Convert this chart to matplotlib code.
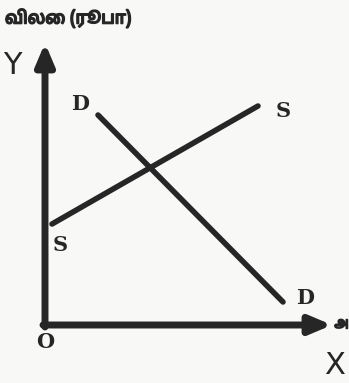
import matplotlib.pyplot as plt
import matplotlib.patheffects as pe

# demand & supply diagram (quantity on x, price on y)
supply_q = [7, 213]
supply_p = [101, 219]
demand_q = [53, 238]
demand_p = [210, 23]

y_label = 'விலை (ரூபா)'
x_label = 'அ'   # only the first letter survives at the page edge

ink = '#262626'
tamil = ['Noto Sans Tamil', 'Noto Serif Tamil', 'Lohit Tamil', 'Noto Sans', 'DejaVu Sans']
thick = [pe.withStroke(linewidth=1.2, foreground=ink)]

fig = plt.figure(figsize=(3.49, 3.83), dpi=100, facecolor='#f8f8f6')
ax = fig.add_axes([0, 0, 1, 1])
ax.set_facecolor('#f8f8f6')
ax.set_xlim(-45, 304)
ax.set_ylim(-58, 325)
ax.axis('off')

# axes with arrow heads
ax.annotate('', xy=(0, 282), xytext=(0, -2),
            arrowprops=dict(arrowstyle='-|>,head_length=1.3,head_width=0.55',
                            color=ink, lw=5, shrinkA=0, shrinkB=0))
ax.annotate('', xy=(287, 0), xytext=(-2, 0),
            arrowprops=dict(arrowstyle='-|>,head_length=1.3,head_width=0.55',
                            color=ink, lw=5, shrinkA=0, shrinkB=0))

# curves
ax.plot(supply_q, supply_p, color=ink, lw=4, solid_capstyle='round')
ax.plot(demand_q, demand_p, color=ink, lw=4, solid_capstyle='round')

bold = dict(color=ink, fontsize=15, fontweight='bold', family='DejaVu Serif',
            ha='center', va='center')
ax.text(35, 221, 'D', **bold)
ax.text(238, 214, 'S', **bold)
ax.text(15, 80, 'S', **bold)
ax.text(260, 27, 'D', **bold)
ax.text(0, -17, 'O', **bold)

ax.text(-33, 260, 'Y', color=ink, fontsize=22, ha='center', va='center')
ax.text(290, -40, 'X', color=ink, fontsize=22, ha='center', va='center')

ax.text(-40, 307, y_label, color=ink, fontsize=12.5, fontweight='bold',
        family=tamil, ha='left', va='center', path_effects=thick)
ax.text(303.5, 2, x_label, color=ink, fontsize=9, fontweight='bold',
        family=tamil, ha='right', va='center', path_effects=thick)

fig.savefig('out.png', dpi=100, facecolor=fig.get_facecolor())
